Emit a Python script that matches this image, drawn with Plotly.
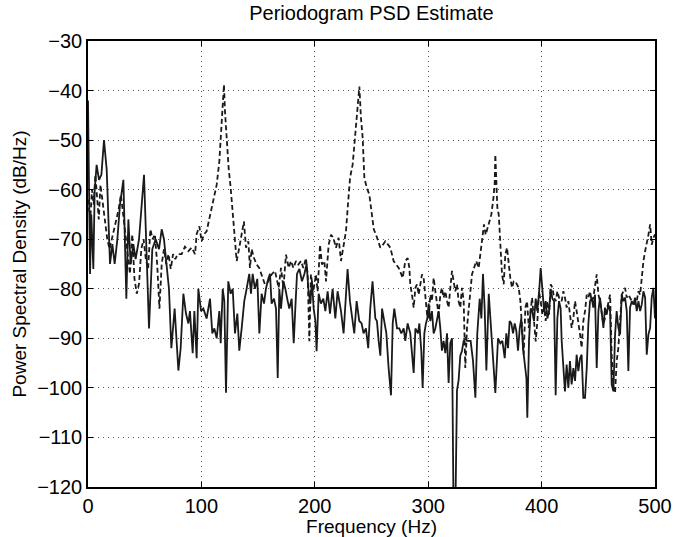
import plotly.graph_objects as go

# Solid trace (frequency Hz, PSD dB/Hz)
solid_freq = [0, 0.9, 1.8, 2.9, 4.7, 5.9, 7.6, 9.7, 11.8, 14.1, 16.5, 19.4, 21.5, 23.5, 25.9, 28.2, 31.2, 33.8, 35.6, 37.6,
              40, 42, 45, 49.4, 51.7, 53.8, 56.7, 59.7, 62.6, 65, 67, 69.4, 71.4, 73.5, 76.4, 79.7, 81.7, 84.1, 86.4, 88.5,
              89.9, 92.3, 93.8, 95.8, 97.3, 99.7, 101.7, 104.6, 107.6, 109.6, 111.4, 113.5, 115.8, 117, 118.8, 120.2, 121.7, 123.7, 125.8, 127.6,
              129.6, 131.7, 133.4, 135.5, 137.8, 139.9, 142.2, 143.7, 145.2, 147.2, 149.3, 151.1, 153.1, 155.2, 156.9, 159, 160.5, 161.9, 164, 165.8,
              167.3, 168.7, 170.2, 172.3, 174, 176.1, 177.5, 179.6, 181.4, 182.8, 184.3, 186.4, 188.7, 190.8, 192.8, 194.3, 196, 197.5, 199, 200.5,
              201.6, 203.4, 205.4, 207.5, 209.3, 211.3, 213.4, 215.7, 218.1, 220.1, 223.1, 225.4, 227.5, 228.9, 231, 232.8, 234.8, 236.9, 239.2, 241.3,
              243, 245.1, 247.1, 248.9, 250.9, 253.4, 254.8, 256.3, 257.8, 259.3, 261.3, 263.1, 265.1, 267.2, 268.7, 270.1, 272.5, 274.5, 276.3, 278.4,
              279.8, 281.9, 284.2, 285.7, 287.2, 288.7, 291, 292.2, 293.9, 295.1, 296.6, 298, 299.2, 300.4, 301.8, 303.3, 304.8, 306.3, 307.7, 309.2,
              310.7, 312.1, 313.6, 315.1, 316.6, 318, 319.5, 321, 322.4, 323.9, 325.4, 326.8, 328.3, 329.8, 331.3, 332.7, 334.2, 335.7, 337.4, 339.5,
              341.6, 343.3, 345.4, 346.9, 348.3, 349.8, 351.3, 353.4, 355.1, 357.2, 359.2, 361.6, 363.6, 365.4, 367.5, 368.9, 370.4, 371.8, 373.3, 374.8,
              376.3, 377.7, 379.2, 380.7, 382.1, 383.6, 385.1, 386.6, 387.4, 388.9, 390.4, 391.8, 393.3, 394.8, 396.2, 397.7, 399.2, 400.7, 402.2, 403.6,
              405.1, 406.6, 408, 409.5, 411, 412.4, 413.9, 415.4, 416.8, 417.7, 419.2, 420.6, 422.1, 423.6, 425, 426.5, 428, 429.5, 430.9, 432.4,
              433.9, 435.3, 436.8, 438.3, 439.8, 441.2, 442.7, 444.2, 445.6, 447.1, 448.6, 450.1, 451.5, 453, 454.5, 455.9, 457.4, 458.9, 460.4, 461.8,
              463.3, 464.8, 466.2, 467.7, 469.2, 470.7, 472.1, 473.6, 475.1, 476.5, 478, 479.5, 481, 482.4, 483.9, 485.4, 486.9, 488.3, 489.8, 491.3,
              492.7, 494.2, 495.7, 497.1, 498.6, 500]
solid_psd = [-42, -67, -77, -65, -76, -60, -55, -58, -57, -50, -56, -75, -71, -75, -70, -63, -58, -82, -66, -75,
             -71, -74, -70, -57, -76, -88, -72, -70, -72, -68, -70, -76, -80, -92, -84, -96.5, -92, -81, -85, -87,
             -84.5, -93, -84.5, -94, -80, -84.5, -84, -86, -82, -89, -88, -90, -84.5, -91, -80, -82.5, -101, -78.5, -81, -80,
             -89, -85, -92.5, -88, -82.5, -80, -77, -81, -77, -80, -78, -89, -81, -83, -80, -78, -77, -83, -82, -84,
             -98, -80, -84, -78.5, -80, -82.5, -84, -82, -91, -84, -77, -76, -78.5, -77, -75, -80, -83, -78.5, -84, -86.5,
             -92.6, -81, -83, -82, -84.5, -80.5, -85, -80, -86, -80.5, -84.5, -89, -80.5, -76, -82.5, -86, -89, -82.5, -86.5, -87,
             -89, -88, -92, -84, -78.5, -86, -86.5, -90.5, -93.5, -84, -87, -89, -96, -101.5, -87, -84, -88, -88, -89, -88,
             -90.5, -87, -89, -92.5, -97, -88, -89, -87, -92.5, -100, -89, -87, -86, -83, -86.5, -84.5, -89, -88, -86.5, -84.5,
             -88, -92.5, -90.5, -93, -89, -99, -91, -90, -126, -126, -100.5, -98.5, -93.5, -92.5, -90.5, -90, -90.5, -90.5, -90.5, -94.5,
             -102, -89, -82, -86, -77, -84, -96.5, -81, -87, -93.5, -101, -90, -91, -90.5, -94, -89, -92, -86.5, -87, -89,
             -87, -88.5, -92.5, -88, -86, -92, -94.5, -98, -106, -90.5, -84, -84.5, -86.5, -82, -84.5, -81, -75.8, -81, -84.5, -82.5,
             -86, -84.5, -80, -82, -82.5, -101.5, -86, -82.5, -84, -90.5, -96, -100.7, -95.3, -100, -94.6, -99.3, -96, -98.6, -93.3, -96.6,
             -94, -93.3, -102, -102, -96, -87.2, -82.5, -81.8, -83.8, -81.2, -96, -84.5, -81.8, -84.5, -87.9, -83.8, -85.2, -83.2, -84.5, -99.3,
             -100.7, -89.2, -84.5, -87.9, -89.2, -81.2, -82.5, -81.8, -84.5, -96.6, -83.8, -82.5, -83.2, -81.8, -84.5, -82.5, -84.5, -83.2, -80.5, -81.8,
             -93.3, -89.2, -87.9, -81.8, -79.8, -86]

# Dashed trace (frequency Hz, PSD dB/Hz)
dashed_freq = [0, 2, 3.5, 5, 6.5, 8, 9.5, 11, 13, 15, 17, 19, 21, 23, 25, 27, 29, 31, 33, 35,
               37, 39, 41, 43, 45, 47, 49, 51, 53, 55, 57, 59, 61, 63, 65, 67, 69, 71, 73, 75,
               77, 79, 81, 82.6, 85.5, 88.5, 91.4, 94.4, 95.8, 98.2, 100.2, 102.3, 104.6, 107.6, 110.5, 113.5, 115.8, 117.3, 118.8, 119.9,
               120.8, 122.3, 124, 125.8, 127.6, 129.4, 131.1, 133.4, 135.5, 137.5, 139.3, 141.4, 142.8, 144.3, 146.4, 148.7, 151, 153.1, 156, 159,
               161.9, 164.9, 168.1, 170.2, 172.3, 174.6, 177, 179, 181.1, 183.4, 185.5, 187.8, 189.9, 192.2, 193.7, 195.2, 196.6, 198.7, 201, 202.5,
               204.6, 206.3, 208.4, 209.9, 212.2, 214.3, 216.3, 218.7, 221, 223.1, 225.5, 227.5, 229, 231.1, 233.4, 234.8, 236.3, 237.8, 239.3, 240.7,
               242.2, 243.7, 245.8, 248.1, 250.2, 252, 254, 255.7, 257.8, 260.1, 262.2, 264.6, 266.6, 269.5, 271.6, 274, 276.3, 277.5, 279.8, 281.9,
               283.4, 284.2, 285.7, 287.2, 288.7, 290.1, 291.6, 293.1, 294.5, 296, 297.5, 299, 300.4, 301.9, 303.3, 304.8, 306.3, 307.7, 309.2, 310.7,
               312.1, 313.6, 315.1, 316.6, 318, 319.5, 321, 322.4, 323.9, 325.4, 326.8, 328.3, 329.8, 331.3, 332.7, 334.2, 335.7, 337.2, 338.6, 340.4,
               342.4, 344.5, 346.3, 347.8, 349.2, 350.7, 352.2, 353.7, 355.7, 357.5, 358.6, 359.2, 360.1, 361, 362.2, 363.6, 365.1, 366.6, 368, 369.5,
               371, 372.4, 373.9, 375.4, 376.9, 378.3, 379.8, 381.3, 382.7, 384.2, 385.7, 387.2, 388.7, 390.1, 391.6, 393.1, 394.8, 396.3, 397.7, 399.2,
               400.7, 402.2, 403.6, 405.1, 406.6, 408.1, 409.5, 411, 412.5, 413.9, 415.4, 417.7, 419.2, 420.6, 422.1, 423.6, 425, 426.5, 428, 429.5,
               430.9, 432.4, 433.9, 435.3, 436.8, 438.3, 439.8, 441.2, 442.7, 444.2, 445.6, 448.6, 450.1, 451.5, 453, 454.5, 455.9, 457.4, 458.9, 460.4,
               461.8, 463.3, 464.8, 466.2, 467.7, 469.2, 470.7, 472.1, 473.6, 475.1, 476.5, 478, 479.5, 481, 482.4, 483.9, 485.4, 486.9, 488.3, 489.8,
               491.3, 492.7, 494.2, 495.7, 497.1, 498.6, 500]
dashed_psd = [-62, -66, -60, -63, -57, -62, -66, -59, -63, -67, -70, -72, -70, -68, -66, -64, -61, -65, -68, -72,
              -77, -69, -78, -81, -79, -72, -70, -74, -76, -68, -70, -69, -75, -84, -75, -72, -75, -73, -76, -73,
              -74, -73, -73, -73, -71.5, -72.4, -71.7, -73, -69, -67.4, -70.4, -69, -68.4, -65, -62.3, -59, -54.3, -49, -44.8, -38.8,
              -44.2, -50.2, -55.6, -59.6, -64.3, -69.1, -74.4, -71.7, -69.1, -66.4, -71.7, -70.4, -75.8, -72, -73.8, -75.1, -75.8, -77.1, -79.1, -78.5,
              -77.1, -76.4, -79.8, -75.8, -79.8, -73.1, -75.8, -74.4, -75.8, -74.4, -75.1, -74.4, -75.8, -73.8, -77.1, -90.6, -77.1, -80.5, -77.1, -80.5,
              -71.1, -75.1, -74.4, -78.5, -71.1, -69.1, -69.7, -71.7, -69.7, -74.4, -70.7, -68.4, -63.7, -57.6, -54.9, -50.9, -47.5, -43.5, -39.2, -45.5,
              -49.5, -57.6, -59.6, -61, -64.3, -68, -69.1, -70.4, -71.7, -71.1, -70.4, -71.1, -71.7, -74.4, -75.1, -75.8, -77.1, -77.8, -74.4, -73.8,
              -75.8, -79.1, -81.2, -83.8, -79.8, -79.1, -81.2, -78.5, -77.1, -77.8, -81.2, -85.2, -85.9, -81.2, -82.5, -77.8, -80.5, -82.5, -85.2, -81.2,
              -79.8, -81.8, -80.5, -82.5, -83.8, -79.8, -76.4, -78.5, -80.5, -79.1, -82.5, -83.8, -79.8, -82.5, -96, -87.9, -84.5, -81.2, -77.1, -75.8,
              -74.4, -75.8, -72.4, -70.4, -67, -69.1, -67.7, -66.4, -65, -61.7, -59, -52.9, -59, -63.7, -65, -70.4, -77.1, -79.1, -73.1, -71.7,
              -75.1, -77.8, -79.8, -78.5, -78.5, -79.1, -79.8, -82.5, -89.2, -93.3, -83.8, -82.5, -87.9, -84.5, -81.8, -85.9, -90.6, -86.5, -80.5, -82.5,
              -85.2, -83.8, -86.5, -82.5, -85.2, -79.1, -79.8, -81.8, -82.5, -80.5, -81.8, -82.5, -80.5, -81.8, -83.8, -82.5, -85.2, -87.9, -85.9, -82.5,
              -84.5, -86.5, -89.2, -91.9, -86.5, -84.5, -81.2, -81.8, -80.5, -82.5, -81.8, -77.1, -81.2, -82.5, -84.5, -87.2, -85.9, -84.5, -82.5, -81.2,
              -93.3, -100, -101, -94.6, -91.9, -87.2, -81.2, -80.5, -79.8, -81.8, -81.2, -81.8, -82.5, -82.5, -83.2, -82.5, -80.5, -81.2, -77.1, -74.4,
              -72.4, -71.1, -69.1, -67, -71.1, -69.7, -69]

x_ticks = [0, 100, 200, 300, 400, 500]
y_ticks = [-120, -110, -100, -90, -80, -70, -60, -50, -40, -30]

FONT = "Liberation Sans, Arial, Helvetica, sans-serif"

fig = go.Figure()
fig.add_trace(go.Scatter(x=solid_freq, y=solid_psd, mode="lines",
                         line=dict(color="#1a1a1a", width=1.8), showlegend=False))
fig.add_trace(go.Scatter(x=dashed_freq, y=dashed_psd, mode="lines",
                         line=dict(color="#1a1a1a", width=1.8, dash="5px,3px"), showlegend=False))

axis_common = dict(
    showline=True, linecolor="black", linewidth=1.5, mirror="allticks",
    ticks="inside", ticklen=5, tickcolor="black", tickwidth=1,
    showgrid=True, gridcolor="#555555", gridwidth=1, griddash="1px,4px",
    zeroline=False, tickfont=dict(family=FONT, size=20, color="black"),
    automargin=False,
)

fig.update_xaxes(range=[0, 500], tickmode="array", tickvals=x_ticks, ticklabelstandoff=0,
                 title=dict(text="Frequency (Hz)", font=dict(family=FONT, size=19, color="black"), standoff=0),
                 **axis_common)
fig.update_yaxes(range=[-120, -30], tickmode="array", tickvals=y_ticks,
                 title=dict(text="Power Spectral Density (dB/Hz)", font=dict(family=FONT, size=19, color="black"), standoff=6),
                 **axis_common)

fig.update_layout(
    width=686, height=537,
    margin=dict(l=88, r=31, t=41, b=50),
    paper_bgcolor="white", plot_bgcolor="white",
    title=dict(text="Periodogram PSD Estimate", x=0.5415, xanchor="center",
               y=1 - 13 / 537, yanchor="middle", yref="container",
               font=dict(family=FONT, size=20, color="black")),
)

fig.write_html("out.html")
